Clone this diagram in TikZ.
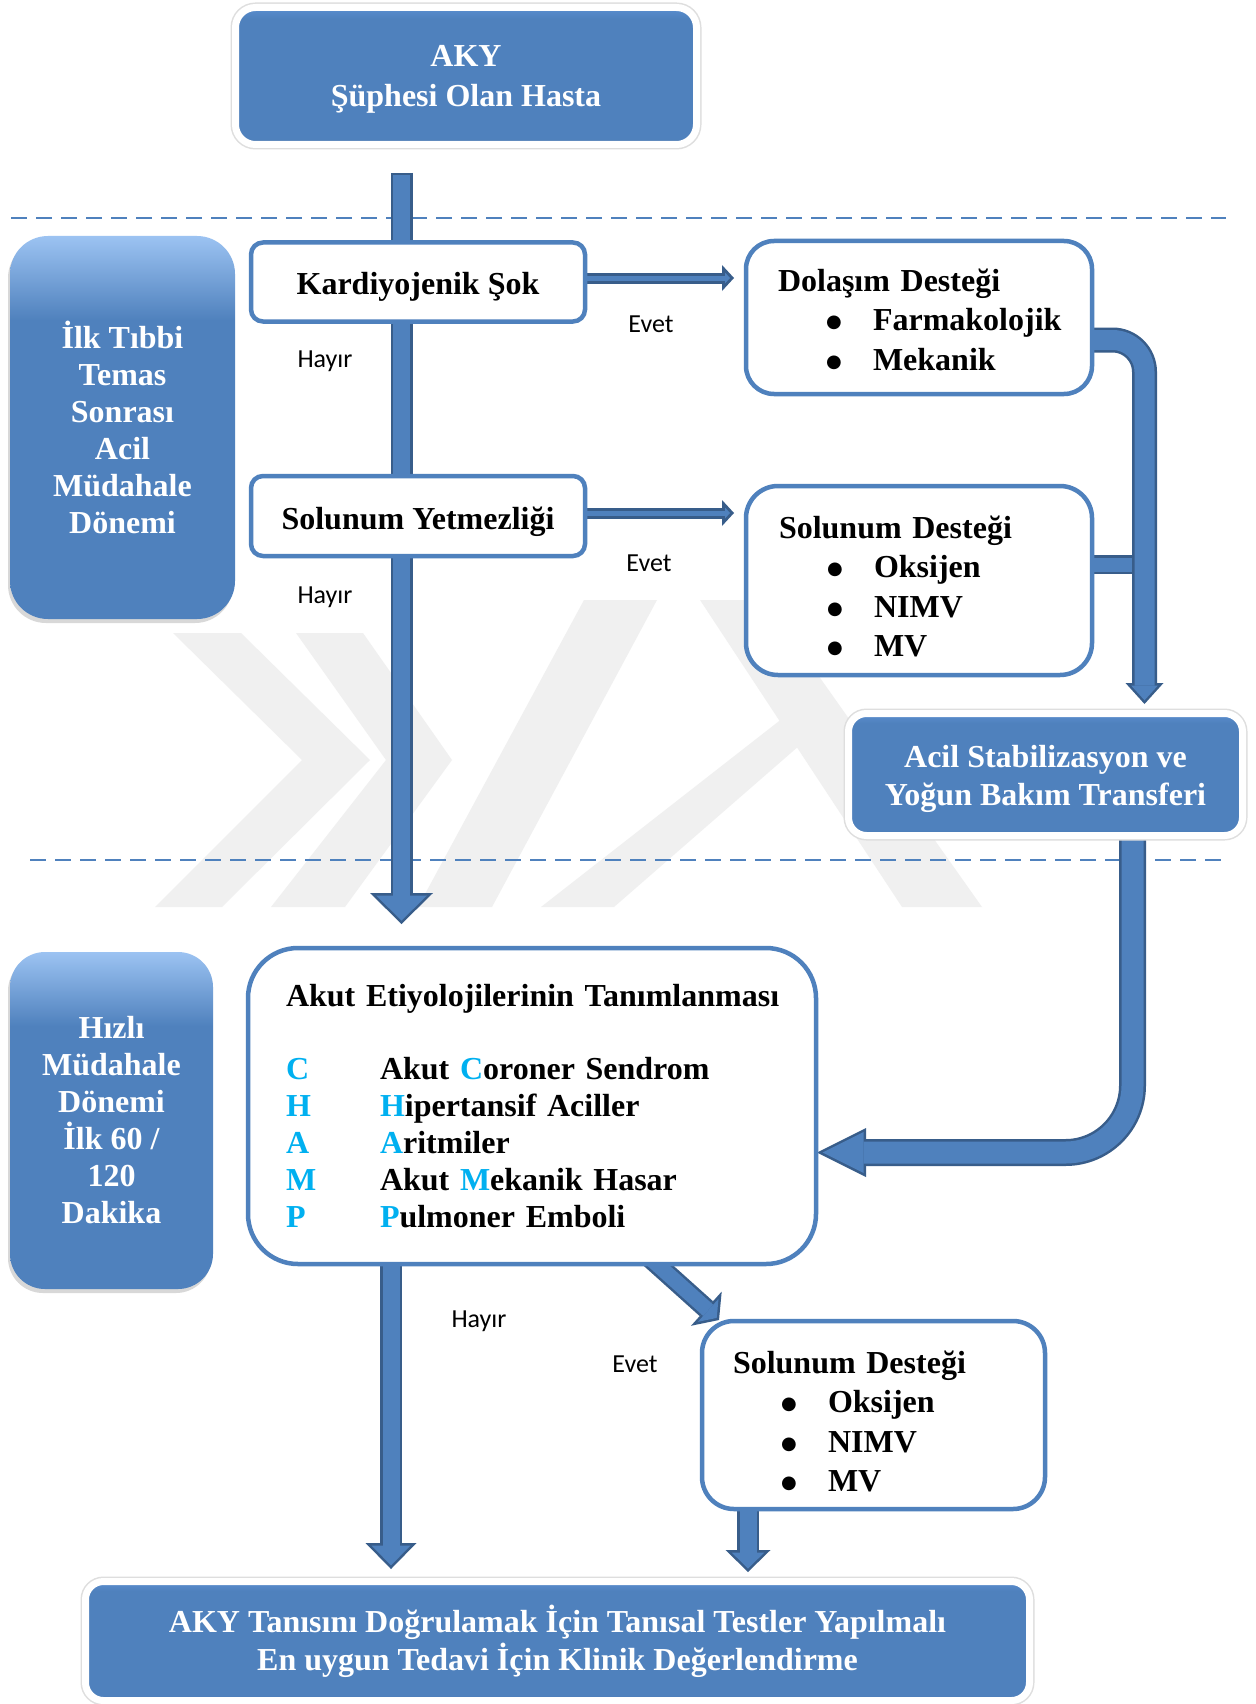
\documentclass[tikz,border=0pt]{standalone}
\usepackage{fontspec}
\usepackage{graphicx}
\setmainfont{Liberation Serif}
\newfontfamily\calib{Carlito}
\newfontfamily\dejavu{DejaVu Sans}
\usetikzlibrary{arrows.meta,shadows}
\definecolor{acc}{HTML}{4F81BD}
\definecolor{arrdark}{HTML}{385D8A}
\definecolor{champc}{HTML}{00B0F0}
\definecolor{wm}{HTML}{F0F0F0}
\definecolor{lbtop}{HTML}{9CC3F2}
\definecolor{bbtop}{HTML}{5A8ED0}
\definecolor{bbbot}{HTML}{36608F}
\pgfdeclareverticalshading{leftshade}{100bp}{color(0bp)=(acc); color(25bp)=(acc); color(64bp)=(acc); color(75bp)=(lbtop); color(100bp)=(lbtop)}
\pgfdeclareverticalshading{blueshade}{100bp}{color(0bp)=(bbbot); color(25bp)=(bbbot); color(27bp)=(acc); color(71bp)=(acc); color(75bp)=(bbtop); color(100bp)=(bbtop)}
\pgfdeclarelayer{wmark}
\pgfdeclarelayer{arrows}
\pgfsetlayers{wmark,arrows,main}
\newcommand{\blt}{\hspace*{48pt}\makebox[47pt][l]{\raisebox{3pt}{\dejavu\fontsize{18}{18}\selectfont ●}}}
\newcommand{\champlet}[1]{\makebox[94pt][l]{\textcolor{champc}{#1}}}
\newcommand{\champhi}[1]{\textcolor{champc}{#1}}
\newcommand{\lift}[1]{\rule{0pt}{#1}}
\tikzset{
  every node/.style={inner sep=0pt},
  whitebox/.style={draw=acc, line width=4.5pt, fill=white, font=\fontsize{32}{39.5}\selectfont\bfseries},
  bluebox/.style={shade, shading=blueshade, preaction={draw=black!13, line width=10pt}, draw=white, line width=7pt, rounded corners=20pt, text=white, align=center, font=\fontsize{32}{40}\selectfont\bfseries},
  sidebox/.style={shade, shading=leftshade, drop shadow={shadow xshift=-2pt, shadow yshift=-4pt, opacity=0.3}, rounded corners=#1, text=white, align=center, font=\fontsize{32}{37}\selectfont\bfseries},
  lbl/.style={font=\calib\fontsize{26}{30}\selectfont, fill=white, inner sep=6pt},
  wmk/.style={fill=wm},
  divider/.style={draw=acc, line width=2.5pt, dash pattern=on 16pt off 9pt},
}
\begin{document}
\begin{tikzpicture}[x=1pt,y=-1pt]
\useasboundingbox (0,0) rectangle (1255,1704);

% ---------- boxes ----------
\node[bluebox, minimum width=461pt, minimum height=137pt] (aky) at (466,76) {\lift{28pt}AKY\\Şüphesi Olan Hasta};

\node[sidebox=38pt, minimum width=225pt, minimum height=383pt] (lb1) at (122.5,427.5) {İlk Tıbbi\\Temas\\Sonrası\\Acil\\Müdahale\\Dönemi};

\node[whitebox, rounded corners=12pt, minimum width=334pt, minimum height=79pt, align=center] (kard) at (418,282) {\lift{31pt}Kardiyojenik Şok};

\node[whitebox, rounded corners=12pt, minimum width=334pt, minimum height=80pt, align=center] (solY) at (418,516) {\lift{34pt}Solunum Yetmezliği};

\node[whitebox, rounded corners=28pt, minimum height=153pt, text width=282pt, inner xsep=32pt, align=left] (dol) at (919,317.5) {\lift{27pt}Dolaşım Desteği\\ \blt Farmakolojik\\ \blt Mekanik};

\node[whitebox, rounded corners=32pt, minimum height=189pt, text width=280pt, inner xsep=33pt, align=left] (sd1) at (919,580.5) {\lift{34pt}Solunum Desteği\\ \blt Oksijen\\ \blt NIMV\\ \blt MV};

\node[bluebox, rounded corners=18pt, minimum width=394pt, minimum height=122pt, font=\fontsize{32}{38}\selectfont\bfseries] (acil) at (1045.5,774.5) {\lift{31pt}Acil Stabilizasyon ve\\Yoğun Bakım Transferi};

\node[sidebox=35pt, minimum width=203pt, minimum height=337pt] (lb2) at (111.5,1120.5) {Hızlı\\Müdahale\\Dönemi\\İlk 60 /\\120\\Dakika};

\node[whitebox, rounded corners=50pt, minimum height=316pt, text width=492pt, inner xsep=38pt, align=left, font=\fontsize{32}{37}\selectfont\bfseries] (champ) at (532,1106) {\mbox{Akut Etiyolojilerinin Tanımlanması}\\[36pt]
\champlet{C}Akut \champhi{C}oroner Sendrom\\
\champlet{H}\champhi{H}ipertansif Aciller\\
\champlet{A}\champhi{A}ritmiler\\
\champlet{M}Akut \champhi{M}ekanik Hasar\\
\champlet{P}\champhi{P}ulmoner Emboli};

\node[whitebox, rounded corners=32pt, minimum height=188pt, text width=281pt, inner xsep=31pt, align=left] (sd2) at (873.5,1415) {\lift{35pt}Solunum Desteği\\ \blt Oksijen\\ \blt NIMV\\ \blt MV};

\node[bluebox, rounded corners=18pt, minimum width=944pt, minimum height=119pt, font=\fontsize{32}{38}\selectfont\bfseries] (bottom) at (557.5,1641) {AKY Tanısını Doğrulamak İçin Tanısal Testler Yapılmalı\\En uygun Tedavi İçin Klinik Değerlendirme};

% ---------- labels ----------
\node[lbl] (ev1) at (651,324) {Evet};
\node[lbl] (ha1) at (325,361) {Hayır};
\node[lbl, inner xsep=31pt, inner ysep=12pt] (ev2) at (649,563) {Evet};
\node[lbl, inner xsep=26pt, inner ysep=18pt] (ha2) at (325,597) {Hayır};
\node[lbl] (ha3) at (479,1321) {Hayır};
\node[lbl] (ev3) at (635,1364) {Evet};

% ---------- connector end points ----------
\coordinate (stemtop) at (401.5,173);
\coordinate (mainTip) at (401.5,924);
\coordinate (kardout) at (580,278);
\coordinate (dolin) at (734,278);
\coordinate (solYout) at (580,513);
\coordinate (sdin) at (734,513);
\coordinate (dolout) at (1080,340);
\coordinate (acilin) at (1144.5,704);
\coordinate (sdout) at (1085,564.5);
\coordinate (sdjoin) at (1142,564.5);
\coordinate (acilout) at (1132.5,830);
\coordinate (champin) at (817,1152.5);
\coordinate (champoutA) at (391,1250);
\coordinate (bottominA) at (391,1569);
\coordinate (champoutB) at (641,1250);
\coordinate (sdtwoin) at (719,1320);
\coordinate (sdtwoout) at (748,1500);
\coordinate (bottominB) at (748,1572);
\coordinate (d1a) at (11,218);
\coordinate (d1b) at (1226,218);
\coordinate (d2a) at (30,860);
\coordinate (d2b) at (1226,860);

% ---------- background, watermark and dividers ----------
\begin{pgfonlayer}{wmark}
\fill[white] (0,0) rectangle (1255,1704);
\fill[wmk] (173,633) -- (241,633) -- (370,760) -- (222,907) -- (155,907) -- (302,760) -- cycle;
\fill[wmk] (296,633) -- (363,633) -- (452,760) -- (345,907) -- (271,907) -- (386,760) -- cycle;
\fill[wmk] (418,907) -- (492,907) -- (657,600) -- (584,600) -- cycle;
\fill[wmk] (700,600) -- (765,600) -- (982,907) -- (902,907) -- cycle;
\fill[wmk] (541,907) -- (614,907) -- (800,745) -- (783,718) -- cycle;
\draw[divider] (d1a) -- (d1b);
\draw[divider] (d2a) -- (d2b);
\end{pgfonlayer}

% ---------- block arrows ----------
\begin{pgfonlayer}{arrows}
% main vertical
\draw[arrdark, line width=22pt, -{Triangle[length=31pt,width=63pt,line width=0pt]}] (stemtop) -- (mainTip);
\draw[acc, line width=17pt, shorten <=2.5pt, shorten >=3.5pt, -{Triangle[length=25pt,width=51pt,line width=0pt]}] (stemtop) -- (mainTip);
% Evet arrows
\draw[arrdark, line width=11pt, -{Triangle[length=12pt,width=26pt,line width=0pt]}] (kardout) -- (dolin);
\draw[acc, line width=5pt, shorten >=4pt, -{Triangle[length=5pt,width=11pt,line width=0pt]}] (kardout) -- (dolin);
\draw[arrdark, line width=11pt, -{Triangle[length=12pt,width=26pt,line width=0pt]}] (solYout) -- (sdin);
\draw[acc, line width=5pt, shorten >=4pt, -{Triangle[length=5pt,width=11pt,line width=0pt]}] (solYout) -- (sdin);
% junction bar
\draw[arrdark, line width=19pt] (sdout) -- (sdjoin);
\draw[acc, line width=14pt] (sdout) -- (sdjoin);
% bent arrow to Acil
\draw[arrdark, line width=25pt, rounded corners=32pt, -{Triangle[length=21pt,width=38pt,line width=0pt]}] (dolout) -| (acilin);
\draw[acc, line width=20pt, rounded corners=32pt, shorten >=3.7pt, -{Triangle[length=14.8pt,width=26.8pt,line width=0pt]}] (dolout) -| (acilin);
% Acil to CHAMP
\draw[arrdark, line width=27pt, rounded corners=67pt, -{Triangle[length=49pt,width=49pt,line width=0pt]}] (acilout) |- (champin);
\draw[acc, line width=22pt, rounded corners=67pt, shorten >=5.6pt, -{Triangle[length=41pt,width=41pt,line width=0pt]}] (acilout) |- (champin);
% CHAMP down (Hayir)
\draw[arrdark, line width=22pt, -{Triangle[length=26pt,width=51pt,line width=0pt]}] (champoutA) -- (bottominA);
\draw[acc, line width=17pt, shorten >=3.6pt, -{Triangle[length=19.9pt,width=39pt,line width=0pt]}] (champoutA) -- (bottominA);
% CHAMP diagonal (Evet)
\draw[arrdark, line width=20pt, -{Triangle[length=17pt,width=46pt,line width=0pt]}] (champoutB) -- (sdtwoin);
\draw[acc, line width=15pt, shorten >=3.1pt, -{Triangle[length=11.4pt,width=30.8pt,line width=0pt]}] (champoutB) -- (sdtwoin);
% Solunum 2 down
\draw[arrdark, line width=22pt, -{Triangle[length=22pt,width=45pt,line width=0pt]}] (sdtwoout) -- (bottominB);
\draw[acc, line width=17pt, shorten >=3.5pt, -{Triangle[length=16pt,width=32.7pt,line width=0pt]}] (sdtwoout) -- (bottominB);
\end{pgfonlayer}
\end{tikzpicture}
\end{document}
